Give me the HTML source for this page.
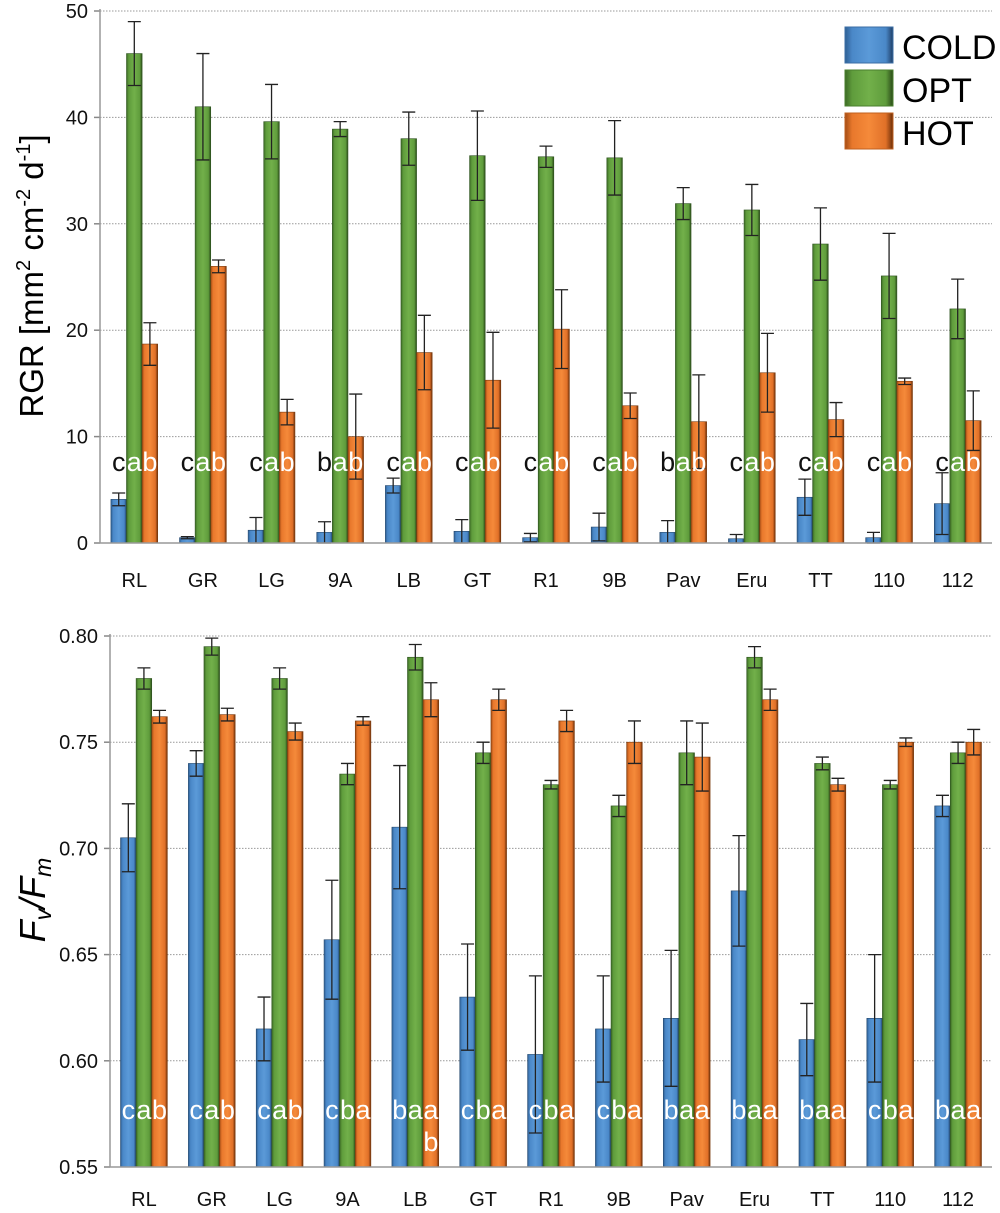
<!DOCTYPE html>
<html><head><meta charset="utf-8">
<style>
html,body{margin:0;padding:0;background:#fff;}
svg{display:block;font-family:"Liberation Sans",sans-serif;}
</style></head>
<body>
<svg id="chart" width="1000" height="1213" viewBox="0 0 1000 1213" xmlns="http://www.w3.org/2000/svg">
<defs>
<linearGradient id="gC" x1="0" x2="1" y1="0" y2="0">
<stop offset="0" stop-color="#2f5f93"/><stop offset="0.15" stop-color="#4a88c8"/><stop offset="0.5" stop-color="#5b9ad8"/><stop offset="0.85" stop-color="#4a88c8"/><stop offset="1" stop-color="#1f3f66"/></linearGradient>
<linearGradient id="gO" x1="0" x2="1" y1="0" y2="0">
<stop offset="0" stop-color="#3c6a25"/><stop offset="0.15" stop-color="#5f9c3c"/><stop offset="0.5" stop-color="#72b04a"/><stop offset="0.85" stop-color="#5f9c3c"/><stop offset="1" stop-color="#2a4a18"/></linearGradient>
<linearGradient id="gH" x1="0" x2="1" y1="0" y2="0">
<stop offset="0" stop-color="#a34c14"/><stop offset="0.15" stop-color="#e8782c"/><stop offset="0.5" stop-color="#f58a3a"/><stop offset="0.85" stop-color="#e07028"/><stop offset="1" stop-color="#6a2e08"/></linearGradient>
</defs>
<g id="top"></g>
<g id="bot"></g>
<g>
<rect x="845" y="27" width="48" height="36" fill="url(#gC)" stroke="#3b6ea5"/>
<text x="902" y="59" font-size="34">COLD</text>
<rect x="845" y="70" width="48" height="36" fill="url(#gO)" stroke="#4a7f2e"/>
<text x="902" y="102" font-size="34">OPT</text>
<rect x="845" y="113" width="48" height="36" fill="url(#gH)" stroke="#c0601f"/>
<text x="902" y="145" font-size="34">HOT</text>
</g>
<text transform="translate(43,276) rotate(-90)" text-anchor="middle" font-size="33">RGR [mm<tspan font-size="20" dy="-13">2</tspan><tspan dy="13"> cm</tspan><tspan font-size="20" dy="-13">-2</tspan><tspan dy="13"> d</tspan><tspan font-size="20" dy="-13">-1</tspan><tspan dy="13">]</tspan></text>
<text transform="translate(45,900) rotate(-90)" text-anchor="middle" font-size="36" font-style="italic">F<tspan font-size="23" dy="6">v</tspan><tspan dy="-6">/F</tspan><tspan font-size="23" dy="6">m</tspan></text>
</svg>
<script>
const categories=["RL","GR","LG","9A","LB","GT","R1","9B","Pav","Eru","TT","110","112"];
const rgrCold=[4.1,0.5,1.2,1.0,5.4,1.1,0.5,1.5,1.0,0.4,4.3,0.5,3.7];
const rgrColdErr=[0.6,0.1,1.2,1.0,0.7,1.1,0.4,1.3,1.1,0.4,1.7,0.5,2.9];
const rgrOpt=[46,41,39.6,38.9,38,36.4,36.3,36.2,31.9,31.3,28.1,25.1,22];
const rgrOptErr=[3,5,3.5,0.7,2.5,4.2,1,3.5,1.5,2.4,3.4,4,2.8];
const rgrHot=[18.7,26,12.3,10,17.9,15.3,20.1,12.9,11.4,16,11.6,15.2,11.5];
const rgrHotErr=[2,0.6,1.2,4,3.5,4.5,3.7,1.2,4.4,3.7,1.6,0.3,2.8];
const rgrTicks=[0,10,20,30,40,50];
const rgrLetters=["cab","cab","cab","bab","cab","cab","cab","cab","bab","cab","cab","cab","cab"];
const fvCold=[0.705,0.740,0.615,0.657,0.710,0.630,0.603,0.615,0.620,0.680,0.610,0.620,0.720];
const fvColdErr=[0.016,0.006,0.015,0.028,0.029,0.025,0.037,0.025,0.032,0.026,0.017,0.030,0.005];
const fvOpt=[0.780,0.795,0.780,0.735,0.790,0.745,0.730,0.720,0.745,0.790,0.740,0.730,0.745];
const fvOptErr=[0.005,0.004,0.005,0.005,0.006,0.005,0.002,0.005,0.015,0.005,0.003,0.002,0.005];
const fvHot=[0.762,0.763,0.755,0.760,0.770,0.770,0.760,0.750,0.743,0.770,0.730,0.750,0.750];
const fvHotErr=[0.003,0.003,0.004,0.002,0.008,0.005,0.005,0.010,0.016,0.005,0.003,0.002,0.006];
const fvTicks=[0.55,0.60,0.65,0.70,0.75,0.80];
const fvTickLabels=["0.55","0.60","0.65","0.70","0.75","0.80"];
const fvLetters=["cab","cab","cab","cba","baa","cba","cba","cba","baa","baa","baa","cba","baa"];

const NS="http://www.w3.org/2000/svg";
function mk(p,tag,at){const e=document.createElementNS(NS,tag);for(const k in at)e.setAttribute(k,at[k]);p.appendChild(e);return e;}

function drawChart(g,cfg){
  const x0=cfg.x0,x1=992,n=categories.length,gw=(x1-x0)/n,bw=15.6;
  const y=v=>cfg.yb-(v-cfg.vmin)/(cfg.vmax-cfg.vmin)*(cfg.yb-cfg.yt);
  cfg.ticks.forEach((t,i)=>{
    const yy=y(t);
    if(i>0){const l=mk(g,'line',{x1:x0,x2:x1,y1:yy,y2:yy,stroke:'#999','stroke-width':1,'stroke-dasharray':'1.5,1.5'});
      
      }
    const tk=mk(g,'line',{x1:x0-6,x2:x0,y1:yy,y2:yy,stroke:'#888','stroke-width':1.5});
    
    
    const tl=mk(g,'text',{x:x0-12,y:yy+7,'text-anchor':'end','font-size':20,fill:'#111'});
    tl.textContent=cfg.tickLabels[i];
    
    
  });
  const ax=mk(g,'line',{x1:x0,x2:x0,y1:cfg.yt-2,y2:cfg.yb,stroke:'#999','stroke-width':1.5});
  
  
  const series=[[cfg.c,cfg.ce,'url(#gC)','#25496f','cold'],[cfg.o,cfg.oe,'url(#gO)','#2f5520','opt'],[cfg.h,cfg.he,'url(#gH)','#7a3a0e','hot']];
  categories.forEach((c,i)=>{
    const cx=x0+gw*(i+0.5),bx0=cx-bw*1.5;
    series.forEach((s,j)=>{
      const v=s[0][i],e=s[1][i],bx=bx0+j*bw,top=y(v);
      const r=mk(g,'rect',{x:bx,y:top,width:bw,height:cfg.yb-top,fill:s[2],stroke:s[3],'stroke-width':0.6});
      
      
      const ex=bx+bw/2,ey1=y(v+e),ey2=y(Math.max(cfg.vmin,v-e));
      const eb=mk(g,'path',{d:`M${ex},${ey1}V${ey2}M${ex-6.5},${ey1}H${ex+6.5}M${ex-6.5},${ey2}H${ex+6.5}`,stroke:'#222','stroke-width':1.3,fill:'none'});
      
      
      const lt=mk(g,'text',{x:ex,y:cfg.ly,'text-anchor':'middle','font-size':27,fill:(j===0&&cfg.firstBlack)?'#111':'#fff'});
      lt.textContent=cfg.letters[i][j];
      
      
    });
    const xl=mk(g,'text',{x:cx,y:cfg.xly,'text-anchor':'middle','font-size':20,fill:'#111'});
    xl.textContent=c;
    
    
  });
  const xa=mk(g,'line',{x1:x0-6,x2:x1,y1:cfg.yb,y2:cfg.yb,stroke:'#999','stroke-width':1.5});
  
  
  return {x0,gw,bw,y};
}
drawChart(document.getElementById('top'),{x0:100,yb:543,yt:11,vmin:0,vmax:50,ticks:rgrTicks,tickLabels:rgrTicks.map(String),
  c:rgrCold,ce:rgrColdErr,o:rgrOpt,oe:rgrOptErr,h:rgrHot,he:rgrHotErr,letters:rgrLetters,firstBlack:true,ly:471,xly:587});
const b=drawChart(document.getElementById('bot'),{x0:110,yb:1167,yt:636,vmin:0.55,vmax:0.80,ticks:fvTicks,tickLabels:fvTickLabels,
  c:fvCold,ce:fvColdErr,o:fvOpt,oe:fvOptErr,h:fvHot,he:fvHotErr,letters:fvLetters,firstBlack:false,ly:1119,xly:1206});
const ex=mk(document.getElementById('bot'),'text',{x:b.x0+b.gw*4.5+b.bw,y:1151,'text-anchor':'middle','font-size':27,fill:'#fff'});
ex.textContent='b';


</script>
</body></html>
